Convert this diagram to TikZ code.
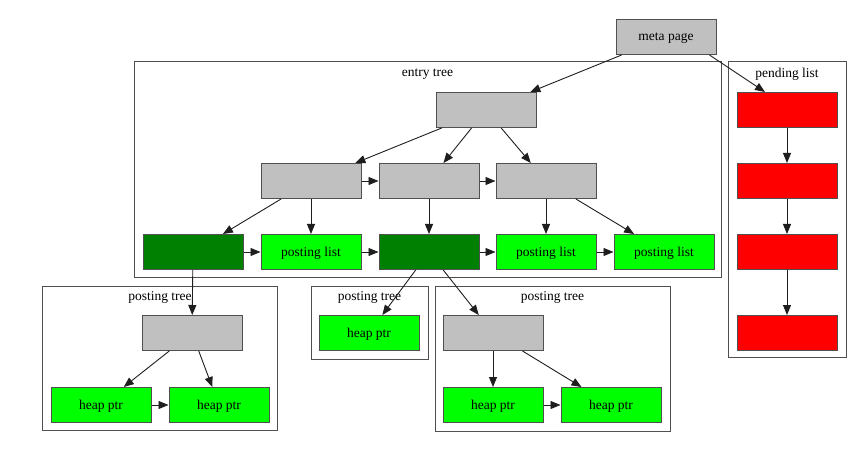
\documentclass[tikz,border=0pt]{standalone}
\usepackage{fontspec}
\setmainfont{Liberation Serif}
\usetikzlibrary{arrows.meta}
\definecolor{gvgray}{RGB}{192,192,192}
\definecolor{gvgreen}{RGB}{0,255,0}
\definecolor{gvdark}{RGB}{0,128,0}
\definecolor{gvred}{RGB}{255,0,0}
\definecolor{edgecol}{RGB}{30,30,30}
\definecolor{framecol}{RGB}{80,80,80}
\tikzset{
  box/.style={draw=framecol, line width=1pt, minimum width=100pt, minimum height=35pt, inner sep=0pt, text depth=0pt, font=\fontsize{13.5}{15}\selectfont},
  gbox/.style={box, fill=gvgray},
  lbox/.style={box, fill=gvgreen},
  dbox/.style={box, fill=gvdark},
  rbox/.style={box, fill=gvred},
  cluster/.style={draw=framecol, line width=1pt, inner sep=0pt},
  clabel/.style={font=\fontsize{13.5}{15}\selectfont, inner sep=0pt, text depth=0pt},
  arr/.style={draw=edgecol, line width=0.9pt, -{Triangle[length=10pt,width=8pt]}}
}
\begin{document}
\begin{tikzpicture}[x=1pt,y=-1pt]
\useasboundingbox (0,0) rectangle (864,454);
% clusters
\node[cluster, minimum width=587pt, minimum height=215pt] (ce) at (427.5,169.5) {};
\node[clabel] (le) at (427.5,73) {entry tree};
\node[cluster, minimum width=118pt, minimum height=295pt] (cp) at (787,209.5) {};
\node[clabel] (lp) at (787,73) {pending list};
\node[cluster, minimum width=235pt, minimum height=144pt] (ct1) at (159.5,358) {};
\node[clabel] (lt1) at (160,296) {posting tree};
\node[cluster, minimum width=117pt, minimum height=73pt] (ct2) at (369.5,322.5) {};
\node[clabel] (lt2) at (369.5,296) {posting tree};
\node[cluster, minimum width=235pt, minimum height=145pt] (ct3) at (552.5,358.5) {};
\node[clabel] (lt3) at (552.5,296) {posting tree};
% nodes
\node[gbox] (meta) at (666,37) {meta page};
\node[gbox] (root) at (486,110) {};
\node[gbox] (a) at (311,181) {};
\node[gbox] (b) at (429,181) {};
\node[gbox] (c) at (546,181) {};
\node[dbox] (d1) at (193,252) {};
\node[lbox] (p1) at (311,252) {posting list};
\node[dbox] (d2) at (429,252) {};
\node[lbox] (p2) at (546,252) {posting list};
\node[lbox] (p3) at (664,252) {posting list};
\node[rbox] (r1) at (787,110) {};
\node[rbox] (r2) at (787,181) {};
\node[rbox] (r3) at (787,252) {};
\node[rbox] (r4) at (787,333) {};
\node[gbox] (t1) at (192,333) {};
\node[lbox] (h1) at (101,405) {heap ptr};
\node[lbox] (h2) at (219,405) {heap ptr};
\node[lbox] (h3) at (369,333) {heap ptr};
\node[gbox] (t3) at (493,333) {};
\node[lbox] (h4) at (493,405) {heap ptr};
\node[lbox] (h5) at (611,405) {heap ptr};
% edges
\draw[arr] (meta) -- (root);
\draw[arr] ([xshift=-7pt]meta.south east) -- ([xshift=-22pt]r1.north);
\draw[arr] (root) -- (a);
\draw[arr] (root) -- (b);
\draw[arr] (root) -- (c);
\draw[arr] (a) -- (b);
\draw[arr] (b) -- (c);
\draw[arr] (a) -- (d1);
\draw[arr] (a) -- (p1);
\draw[arr] (b) -- (d2);
\draw[arr] (c) -- (p2);
\draw[arr] (c) -- (p3);
\draw[arr] (d1) -- (p1);
\draw[arr] (p1) -- (d2);
\draw[arr] (d2) -- (p2);
\draw[arr] (p2) -- (p3);
\draw[arr] (r1) -- (r2);
\draw[arr] (r2) -- (r3);
\draw[arr] (r3) -- (r4);
\draw[arr] (d1) -- (t1);
\draw[arr] (d2) -- (h3);
\draw[arr] (d2) -- (t3);
\draw[arr] (t1) -- (h1);
\draw[arr] (t1) -- (h2);
\draw[arr] (h1) -- (h2);
\draw[arr] (t3) -- (h4);
\draw[arr] (t3) -- (h5);
\draw[arr] (h4) -- (h5);
\end{tikzpicture}
\end{document}
